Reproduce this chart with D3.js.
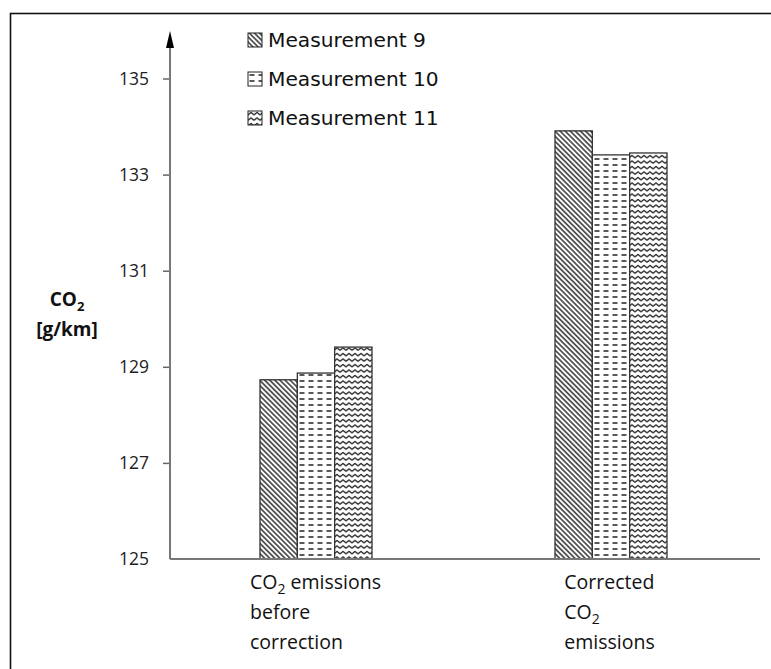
<!DOCTYPE html>
<html>
<head>
<meta charset="utf-8">
<script src="https://cdn.jsdelivr.net/npm/d3@7"></script>
<style>
  html, body { margin: 0; padding: 0; background: #fff; }
  svg { display: block; }
</style>
</head>
<body>
<div id="chart"></div>
<script>
// Categories (each is a list of lines; "CO2" gets a subscript 2)
const categories = ["before", "corrected"];
const categoryLines = [
  ["CO2 emissions", "before", "correction"],
  ["Corrected", "CO2", "emissions"]
];
const seriesNames = ["Measurement 9", "Measurement 10", "Measurement 11"];
const measurement9 = [128.73, 133.91];
const measurement10 = [128.87, 133.41];
const measurement11 = [129.41, 133.45];
const yTicks = [125, 127, 129, 131, 133, 135];

const series = [measurement9, measurement10, measurement11];

const W = 771, H = 669;
const svg = d3.select("#chart").append("svg")
  .attr("width", W).attr("height", H);

// outer frame
svg.append("rect")
  .attr("x", 10.5).attr("y", 13.5)
  .attr("width", 820).attr("height", 720)
  .attr("fill", "none").attr("stroke", "#111").attr("stroke-width", 1.6);

// hatch patterns
const defs = svg.append("defs");
const p0 = defs.append("pattern").attr("id", "pat0")
  .attr("patternUnits", "userSpaceOnUse")
  .attr("width", 3.6).attr("height", 10)
  .attr("patternTransform", "rotate(-45)");
p0.append("rect").attr("width", 3.6).attr("height", 10).attr("fill", "#fff");
p0.append("line").attr("x1", 0.9).attr("y1", 0).attr("x2", 0.9).attr("y2", 10)
  .attr("stroke", "#111").attr("stroke-width", 1.3);

const p1 = defs.append("pattern").attr("id", "pat1")
  .attr("patternUnits", "userSpaceOnUse")
  .attr("width", 9).attr("height", 6);
p1.append("rect").attr("width", 9).attr("height", 6).attr("fill", "#fff");
p1.append("line").attr("x1", 1.5).attr("y1", 3).attr("x2", 6.5).attr("y2", 3)
  .attr("stroke", "#111").attr("stroke-width", 1.4);

const p2 = defs.append("pattern").attr("id", "pat2")
  .attr("patternUnits", "userSpaceOnUse")
  .attr("width", 6).attr("height", 5.5);
p2.append("rect").attr("width", 6).attr("height", 5.5).attr("fill", "#fff");
p2.append("path").attr("d", "M0,3.8 L3,1.4 L6,3.8")
  .attr("fill", "none").attr("stroke", "#111").attr("stroke-width", 1.2);

const patterns = ["url(#pat0)", "url(#pat1)", "url(#pat2)"];

// scales
const y = d3.scaleLinear().domain([125, 135]).range([559, 78.5]);
const x0 = d3.scalePoint().domain(categories).range([170, 760]).padding(0.5);
const x1 = d3.scaleBand().domain(d3.range(seriesNames.length)).range([-56, 56]);

// bars
const groups = svg.append("g").selectAll("g")
  .data(categories)
  .join("g")
  .attr("transform", d => `translate(${x0(d) - 1.5},0)`);

groups.selectAll("rect")
  .data((d, i) => series.map((s, k) => ({ k, v: s[i] })))
  .join("rect")
  .attr("x", d => x1(d.k))
  .attr("width", x1.bandwidth())
  .attr("y", d => y(d.v))
  .attr("height", d => y(125) - y(d.v))
  .attr("fill", d => patterns[d.k])
  .attr("stroke", "#333")
  .attr("stroke-width", 1.3);

// baseline
svg.append("line")
  .attr("x1", 170).attr("x2", 760)
  .attr("y1", y(125)).attr("y2", y(125))
  .attr("stroke", "#777").attr("stroke-width", 2);

// y axis with arrow
const yAxis = d3.axisLeft(y).tickValues(yTicks).tickSize(7).tickPadding(14)
  .tickFormat(d3.format("d"));
const gy = svg.append("g").attr("transform", "translate(170,0)").call(yAxis);
gy.select(".domain").remove();
gy.selectAll(".tick line").attr("stroke", "#666").attr("stroke-width", 1.5);
gy.selectAll(".tick text")
  .attr("font-family", "'Open Sans', Lato, sans-serif")
  .attr("font-size", 17.5).attr("fill", "#222");
gy.selectAll(".tick").filter(d => d === 125).select("line").remove();

svg.append("line")
  .attr("x1", 170).attr("x2", 170)
  .attr("y1", y(125)).attr("y2", 46)
  .attr("stroke", "#777").attr("stroke-width", 2);
svg.append("path")
  .attr("d", "M170,31 L166,48 L174,48 Z")
  .attr("fill", "#000");

// y axis title
const yt = svg.append("text")
  .attr("font-family", "'Open Sans', Lato, sans-serif")
  .attr("font-weight", "bold").attr("font-size", 19).attr("fill", "#111")
  .attr("text-anchor", "middle");
const yt1 = yt.append("tspan").attr("x", 67).attr("y", 306);
yt1.append("tspan").text("CO");
yt1.append("tspan").attr("dy", 5).attr("font-size", 13).text("2");
yt.append("tspan").attr("x", 67).attr("y", 336).text("[g/km]");

// category labels, wrapped and left-aligned under each group
const catFont = "'Open Sans', Lato, sans-serif";
categories.forEach((c, i) => {
  const t = svg.append("text")
    .attr("font-family", catFont).attr("font-size", 19.5).attr("fill", "#111");
  categoryLines[i].forEach((line, j) => {
    const ts = t.append("tspan").attr("x", 0).attr("y", 589 + j * 30);
    const m = line.match(/^(.*?)CO2(.*)$/);
    if (m) {
      ts.append("tspan").text(m[1] + "CO");
      ts.append("tspan").attr("dy", 5).attr("font-size", 14).text("2");
      if (m[2]) ts.append("tspan").attr("dy", -5).text(m[2]);
    } else {
      ts.text(line);
    }
  });
  const w = t.node().getBBox().width;
  const left = x0(c) - w / 2 + (i === 0 ? -2 : -3);
  t.attr("transform", `translate(${left},0)`);
});

// legend
const lg = svg.append("g").selectAll("g")
  .data(seriesNames)
  .join("g")
  .attr("transform", (d, i) => `translate(248,${33 + i * 39})`);
lg.append("rect")
  .attr("width", 14).attr("height", 14)
  .attr("fill", (d, i) => patterns[i])
  .attr("stroke", "#222").attr("stroke-width", 1);
lg.append("text")
  .attr("x", 20).attr("y", 14)
  .attr("font-family", "'DejaVu Sans', sans-serif")
  .attr("font-size", 20.2).attr("fill", "#111")
  .text(d => d);
</script>
</body>
</html>
